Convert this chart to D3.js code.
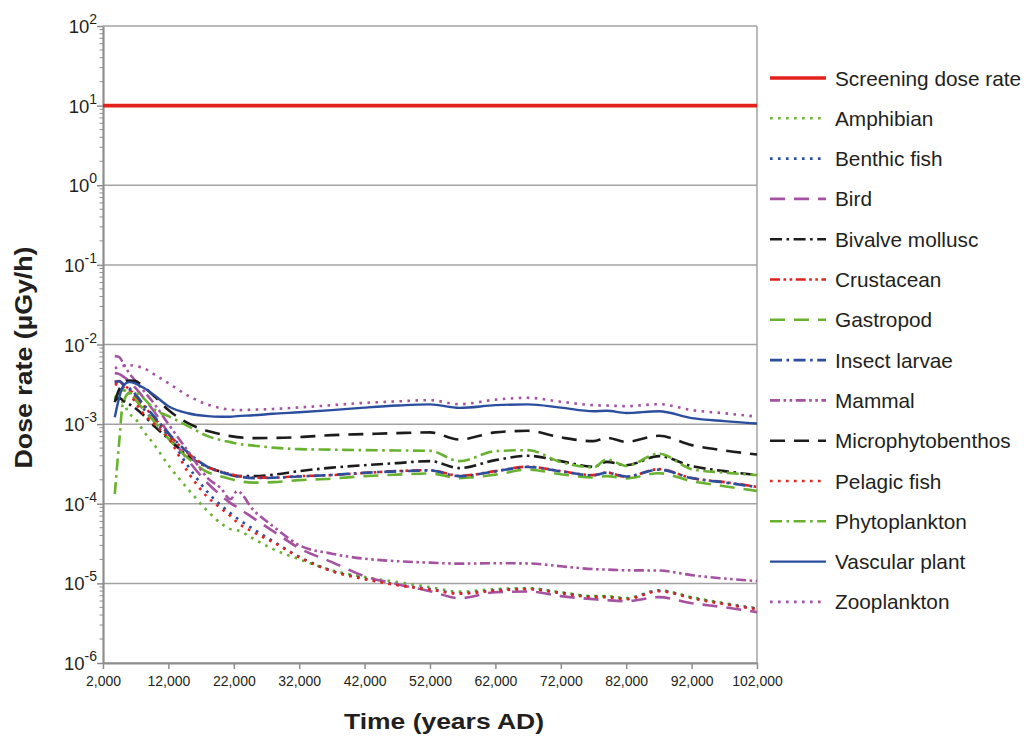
<!DOCTYPE html>
<html>
<head>
<meta charset="utf-8">
<script src="https://cdn.jsdelivr.net/npm/d3@7"></script>
<style>
  html, body { margin: 0; padding: 0; background: #ffffff; }
  svg { display: block; }
  text { font-family: "Liberation Sans", Arial, sans-serif; fill: #231f20; }
</style>
</head>
<body>
<svg id="chart" width="1026" height="736"></svg>
<script>
// ---------------- DATA ----------------
const years = [3800, 4500, 5000, 6000, 7000, 8000, 10000, 12000, 15000, 18000, 20000, 21500, 22500, 25000, 28000,
  32000, 37000, 42000, 47000, 52000, 56500, 62000, 67000, 72000, 77000, 79000, 82000, 87000, 92000, 97000, 102000];

const screeningYears = [2000, 102000];
const screeningDose = [10, 10];

const amphibian = [2.18e-3, 2.06e-3, 1.89e-3, 1.36e-3, 1.16e-3, 8.65e-4, 5.29e-4, 3.05e-4, 1.53e-4, 8.07e-5, 5.71e-5, 4.80e-5, 4.66e-5, 3.64e-5, 2.69e-5,
  2.01e-5, 1.46e-5, 1.20e-5, 1.04e-5, 8.96e-6, 7.87e-6, 8.46e-6, 8.70e-6, 7.75e-6, 6.91e-6, 6.91e-6, 6.52e-6, 8.21e-6, 6.71e-6, 5.64e-6, 4.88e-6];
const benthicFish = [3.27e-3, 3.27e-3, 3.09e-3, 2.75e-3, 2.18e-3, 1.64e-3, 1.06e-3, 7.07e-4, 2.97e-4, 1.40e-4, 9.60e-5, 7.62e-5, 6.59e-5, 4.80e-5, 3.39e-5,
  2.16e-5, 1.44e-5, 1.15e-5, 9.63e-6, 8.46e-6, 7.53e-6, 8.21e-6, 8.58e-6, 7.64e-6, 6.81e-6, 6.81e-6, 6.42e-6, 8.10e-6, 6.61e-6, 5.56e-6, 4.81e-6];
const bird = [4.37e-3, 4.25e-3, 4.01e-3, 3.47e-3, 2.83e-3, 2.25e-3, 1.37e-3, 7.71e-4, 3.53e-4, 1.81e-4, 1.28e-4, 1.02e-4, 9.06e-5, 6.59e-5, 4.53e-5,
  2.77e-5, 1.85e-5, 1.23e-5, 9.77e-6, 7.98e-6, 6.52e-6, 7.75e-6, 7.90e-6, 6.91e-6, 6.33e-6, 6.15e-6, 5.98e-6, 6.71e-6, 5.64e-6, 5.02e-6, 4.35e-6];
const bivalveMollusc = [2.0e-3, 2.12e-3, 2.0e-3, 1.78e-3, 1.57e-3, 1.34e-3, 9.17e-4, 6.57e-4, 3.96e-4, 2.88e-4, 2.53e-4, 2.32e-4, 2.22e-4, 2.22e-4, 2.32e-4,
  2.57e-4, 2.84e-4, 3.05e-4, 3.24e-4, 3.43e-4, 2.80e-4, 3.53e-4, 4.00e-4, 3.43e-4, 2.91e-4, 3.36e-4, 3.05e-4, 3.96e-4, 2.97e-4, 2.57e-4, 2.29e-4];
const crustacean = [3.37e-3, 3.47e-3, 3.18e-3, 2.75e-3, 2.25e-3, 1.78e-3, 1.16e-3, 7.49e-4, 4.32e-4, 2.88e-4, 2.53e-4, 2.35e-4, 2.25e-4, 2.13e-4, 2.13e-4,
  2.22e-4, 2.29e-4, 2.44e-4, 2.57e-4, 2.64e-4, 2.24e-4, 2.57e-4, 2.92e-4, 2.57e-4, 2.29e-4, 2.47e-4, 2.18e-4, 2.72e-4, 2.10e-4, 1.87e-4, 1.63e-4];
const gastropod = [2.12e-3, 2.52e-3, 2.67e-3, 2.45e-3, 2.0e-3, 1.59e-3, 1.04e-3, 6.57e-4, 3.74e-4, 2.49e-4, 2.22e-4, 2.04e-4, 1.95e-4, 1.84e-4, 1.87e-4,
  1.98e-4, 2.07e-4, 2.22e-4, 2.32e-4, 2.40e-4, 2.10e-4, 2.32e-4, 2.68e-4, 2.35e-4, 2.14e-4, 2.22e-4, 2.08e-4, 2.42e-4, 1.92e-4, 1.66e-4, 1.45e-4];
const insectLarvae = [3.40e-3, 3.45e-3, 3.25e-3, 2.85e-3, 2.35e-3, 1.85e-3, 1.20e-3, 7.70e-4, 4.40e-4, 2.90e-4, 2.50e-4, 2.30e-4, 2.22e-4, 2.10e-4, 2.12e-4,
  2.20e-4, 2.30e-4, 2.45e-4, 2.55e-4, 2.62e-4, 2.22e-4, 2.55e-4, 2.90e-4, 2.55e-4, 2.28e-4, 2.45e-4, 2.20e-4, 2.68e-4, 2.10e-4, 1.85e-4, 1.62e-4];
const mammal = [7.15e-3, 6.95e-3, 6.01e-3, 4.37e-3, 3.47e-3, 2.75e-3, 1.73e-3, 1.0e-3, 4.58e-4, 2.10e-4, 1.57e-4, 1.14e-4, 1.44e-4, 8.31e-5, 5.23e-5,
  3.02e-5, 2.36e-5, 2.04e-5, 1.90e-5, 1.82e-5, 1.77e-5, 1.79e-5, 1.78e-5, 1.64e-5, 1.51e-5, 1.49e-5, 1.46e-5, 1.45e-5, 1.27e-5, 1.15e-5, 1.07e-5];
const microphytobenthos = [1.89e-3, 2.75e-3, 3.18e-3, 3.52e-3, 3.47e-3, 3.05e-3, 2.18e-3, 1.50e-3, 1.03e-3, 8.17e-4, 7.49e-4, 7.07e-4, 6.87e-4, 6.67e-4, 6.70e-4,
  6.87e-4, 7.27e-4, 7.49e-4, 7.71e-4, 7.87e-4, 6.42e-4, 7.87e-4, 8.24e-4, 6.81e-4, 6.11e-4, 6.74e-4, 5.99e-4, 7.13e-4, 5.45e-4, 4.67e-4, 4.16e-4];
const pelagicFish = [3.18e-3, 3.09e-3, 2.92e-3, 2.45e-3, 1.84e-3, 1.41e-3, 9.71e-4, 6.67e-4, 2.49e-4, 1.21e-4, 8.81e-5, 6.99e-5, 5.87e-5, 4.40e-5, 3.29e-5,
  2.13e-5, 1.42e-5, 1.13e-5, 9.49e-6, 8.34e-6, 7.43e-6, 8.10e-6, 8.46e-6, 7.53e-6, 6.71e-6, 6.71e-6, 6.33e-6, 7.98e-6, 6.52e-6, 5.48e-6, 4.74e-6];
const phytoplankton = [1.32e-4, 6.3e-4, 1.73e-3, 2.45e-3, 2.45e-3, 2.18e-3, 1.50e-3, 1.26e-3, 9.44e-4, 7.07e-4, 6.30e-4, 5.94e-4, 5.69e-4, 5.37e-4, 5.07e-4,
  4.85e-4, 4.78e-4, 4.71e-4, 4.67e-4, 4.62e-4, 3.43e-4, 4.58e-4, 4.71e-4, 3.33e-4, 2.86e-4, 3.60e-4, 2.99e-4, 4.26e-4, 2.72e-4, 2.46e-4, 2.29e-4];
const vascularPlant = [1.22e-3, 2.18e-3, 2.92e-3, 3.37e-3, 3.23e-3, 2.92e-3, 2.25e-3, 1.68e-3, 1.37e-3, 1.26e-3, 1.24e-3, 1.24e-3, 1.26e-3, 1.29e-3, 1.35e-3,
  1.41e-3, 1.50e-3, 1.61e-3, 1.71e-3, 1.77e-3, 1.60e-3, 1.73e-3, 1.77e-3, 1.61e-3, 1.45e-3, 1.47e-3, 1.38e-3, 1.45e-3, 1.19e-3, 1.09e-3, 1.02e-3];
const zooplankton = [5.05e-3, 5.20e-3, 5.35e-3, 5.51e-3, 5.35e-3, 5.13e-3, 4.13e-3, 3.27e-3, 2.28e-3, 1.76e-3, 1.59e-3, 1.52e-3, 1.50e-3, 1.52e-3, 1.55e-3,
  1.62e-3, 1.73e-3, 1.85e-3, 1.93e-3, 2.0e-3, 1.78e-3, 2.03e-3, 2.14e-3, 1.91e-3, 1.73e-3, 1.71e-3, 1.68e-3, 1.78e-3, 1.50e-3, 1.37e-3, 1.24e-3];

const xTickValues = [2000, 12000, 22000, 32000, 42000, 52000, 62000, 72000, 82000, 92000, 102000];
const yExponents = [2, 1, 0, -1, -2, -3, -4, -5, -6];

// ---------------- STYLES ----------------
const RED = "#e3211c", GREEN = "#68b22f", BLUE = "#2b4e9f", PURPLE = "#a452a1", BLACK = "#1d1b1c";
const DOT = "2.6,5.4", LONG = "15,9", DASHDOT = "12,4.5,2.6,4.5", DASHDOTDOT = "10,3.5,2.6,3.5,2.6,3.5";

const series = [
  { name: "Screening dose rate", xs: screeningYears, values: screeningDose, color: RED, dash: null, width: 3.6 },
  { name: "Amphibian", values: amphibian, color: GREEN, dash: DOT, width: 2.6 },
  { name: "Benthic fish", values: benthicFish, color: BLUE, dash: DOT, width: 2.6 },
  { name: "Bird", values: bird, color: PURPLE, dash: LONG, width: 2.6 },
  { name: "Bivalve mollusc", values: bivalveMollusc, color: BLACK, dash: DASHDOT, width: 2.6 },
  { name: "Crustacean", values: crustacean, color: RED, dash: DASHDOTDOT, width: 2.6 },
  { name: "Gastropod", values: gastropod, color: GREEN, dash: LONG, width: 2.6 },
  { name: "Insect larvae", values: insectLarvae, color: BLUE, dash: DASHDOT, width: 2.6 },
  { name: "Mammal", values: mammal, color: PURPLE, dash: DASHDOTDOT, width: 2.6 },
  { name: "Microphytobenthos", values: microphytobenthos, color: BLACK, dash: LONG, width: 2.6 },
  { name: "Pelagic fish", values: pelagicFish, color: RED, dash: DOT, width: 2.6 },
  { name: "Phytoplankton", values: phytoplankton, color: GREEN, dash: DASHDOT, width: 2.6 },
  { name: "Vascular plant", values: vascularPlant, color: BLUE, dash: null, width: 2.4 },
  { name: "Zooplankton", values: zooplankton, color: PURPLE, dash: DOT, width: 2.6 }
];

// ---------------- LAYOUT ----------------
const svg = d3.select("#chart");
const plot = { left: 103, right: 757, top: 26, bottom: 663 };

const x = d3.scaleLinear().domain([2000, 102000]).range([plot.left, plot.right]);
const y = d3.scaleLog().domain([1e-6, 1e2]).range([plot.bottom, plot.top]);

const GRID = "#a3a3a3", AXIS = "#8e8e8e";

// horizontal gridlines at every decade
svg.append("g").selectAll("line")
  .data(yExponents)
  .join("line")
  .attr("x1", plot.left).attr("x2", plot.right)
  .attr("y1", d => y(Math.pow(10, d))).attr("y2", d => y(Math.pow(10, d)))
  .attr("stroke", GRID).attr("stroke-width", 1.5);

// right frame line
svg.append("line")
  .attr("x1", plot.right).attr("x2", plot.right)
  .attr("y1", plot.top).attr("y2", plot.bottom)
  .attr("stroke", GRID).attr("stroke-width", 1.5);

// minor ticks on y axis
const minor = [];
for (let e = -6; e < 2; e++) for (let m = 2; m <= 9; m++) minor.push(m * Math.pow(10, e));
svg.append("g").selectAll("line")
  .data(minor)
  .join("line")
  .attr("x1", plot.left - 3.5).attr("x2", plot.left)
  .attr("y1", d => y(d)).attr("y2", d => y(d))
  .attr("stroke", AXIS).attr("stroke-width", 1);

// y axis (major ticks, labels drawn separately for superscripts)
const yAxis = svg.append("g")
  .attr("transform", `translate(${plot.left},0)`)
  .call(d3.axisLeft(y).tickValues(yExponents.map(e => Math.pow(10, e))).tickFormat("").tickSize(6).tickSizeOuter(0));
yAxis.select(".domain").attr("stroke", AXIS).attr("stroke-width", 2.2);
yAxis.selectAll(".tick line").attr("stroke", AXIS).attr("stroke-width", 1.5);

const yLabels = svg.append("g").selectAll("text")
  .data(yExponents)
  .join("text")
  .attr("x", 97)
  .attr("y", d => y(Math.pow(10, d)) + 7)
  .attr("text-anchor", "end")
  .attr("font-size", 18.5);
yLabels.append("tspan").text("10");
yLabels.append("tspan").attr("dy", -9).attr("font-size", 14).text(d => String(d));

// x axis
const xAxis = svg.append("g")
  .attr("transform", `translate(0,${plot.bottom})`)
  .call(d3.axisBottom(x).tickValues(xTickValues).tickFormat(d3.format(",")).tickSize(6).tickSizeOuter(0).tickPadding(7));
xAxis.select(".domain").attr("stroke", AXIS).attr("stroke-width", 2.2);
xAxis.selectAll(".tick line").attr("stroke", AXIS).attr("stroke-width", 1.5);
xAxis.selectAll(".tick text")
  .attr("font-family", "'Liberation Sans', Arial, sans-serif")
  .attr("font-size", 14).attr("fill", "#231f20");

// axis titles
svg.append("text")
  .attr("x", (plot.left + plot.right) / 2 + 14).attr("y", 729)
  .attr("text-anchor", "middle").attr("font-weight", "bold").attr("font-size", 22)
  .attr("textLength", 200).attr("lengthAdjust", "spacingAndGlyphs")
  .text("Time (years AD)");
svg.append("text")
  .attr("transform", `translate(32,${(plot.top + plot.bottom) / 2 + 13}) rotate(-90)`)
  .attr("text-anchor", "middle").attr("font-weight", "bold").attr("font-size", 23)
  .attr("textLength", 222).attr("lengthAdjust", "spacingAndGlyphs")
  .text("Dose rate (µGy/h)");

// data lines
const line = d3.line()
  .x(d => x(d[0]))
  .y(d => y(d[1]))
  .curve(d3.curveMonotoneX);

const lines = svg.append("g");
series.forEach(s => {
  const xs = s.xs || years;
  const pts = s.values.map((v, i) => [xs[i], v]);
  lines.append("path")
    .datum(pts)
    .attr("d", line)
    .attr("fill", "none")
    .attr("stroke", s.color)
    .attr("stroke-width", s.width)
    .attr("stroke-dasharray", s.dash)
    .attr("stroke-linejoin", "round");
});

// legend
const legendTop = 78, legendStep = 40.3;
const lg = svg.append("g");
series.forEach((s, i) => {
  const ly = legendTop + i * legendStep;
  lg.append("line")
    .attr("x1", 770).attr("x2", 826).attr("y1", ly).attr("y2", ly)
    .attr("stroke", s.color)
    .attr("stroke-width", s.width)
    .attr("stroke-dasharray", s.dash);
  lg.append("text")
    .attr("x", 835).attr("y", ly + 7.5)
    .attr("font-size", 20.8)
    .text(s.name);
});
</script>
</body>
</html>
